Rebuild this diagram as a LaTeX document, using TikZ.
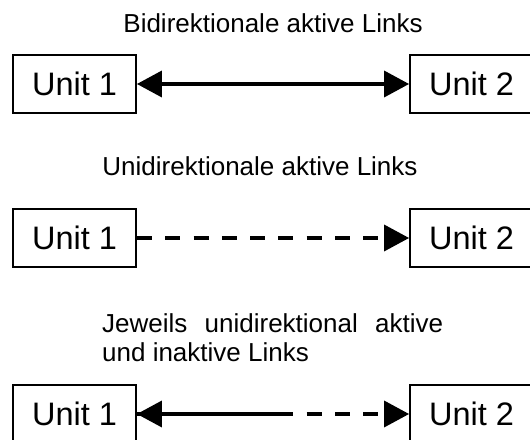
\documentclass[tikz,border=0pt]{standalone}
\usepackage{fontspec}
\setmainfont{Liberation Sans}
\usetikzlibrary{arrows.meta}

\begin{document}
\begin{tikzpicture}[x=1pt,y=1pt,
  unit/.style={draw,line width=1.8pt,minimum width=123pt,minimum height=58pt,
    inner sep=0pt,font=\fontsize{32.5}{40}\selectfont},
  caption/.style={inner sep=0pt,font=\fontsize{26}{29}\selectfont},
  tip/.tip={Triangle[length=25pt,width=26pt]},
  link/.style={line width=3.5pt,-tip},
  dashlink/.style={link,dash pattern=on 15pt off 13.3pt}]
\useasboundingbox (0,0) rectangle (530,439);
% Bidirektional
\node[caption] (t1) at (273,415.5) {Bidirektionale aktive Links};
\node[unit] (a1) at (74.5,355) {Unit 1};
\node[unit] (b1) at (471.5,355) {Unit 2};
\draw[line width=3.5pt,tip-tip] (a1) -- (b1);
% Unidirektional
\node[caption] (t2) at (260,273) {Unidirektionale aktive Links};
\node[unit] (a2) at (74.5,201) {Unit 1};
\node[unit] (b2) at (471.5,201) {Unit 2};
\draw[dashlink] (a2) -- (b2);
% Jeweils
\node[caption,text width=341pt,align=justify,anchor=base west] (t3) at (102,106)
  {Jeweils unidirektional aktive\linebreak und inaktive Links};
\node[unit] (a3) at (74.5,25) {Unit 1};
\node[unit] (b3) at (471.5,25) {Unit 2};
\coordinate (m3) at (290,25);
\draw[dashlink] (a3) -- (b3);
\draw[link] (m3) -- (a3);
\end{tikzpicture}
\end{document}
